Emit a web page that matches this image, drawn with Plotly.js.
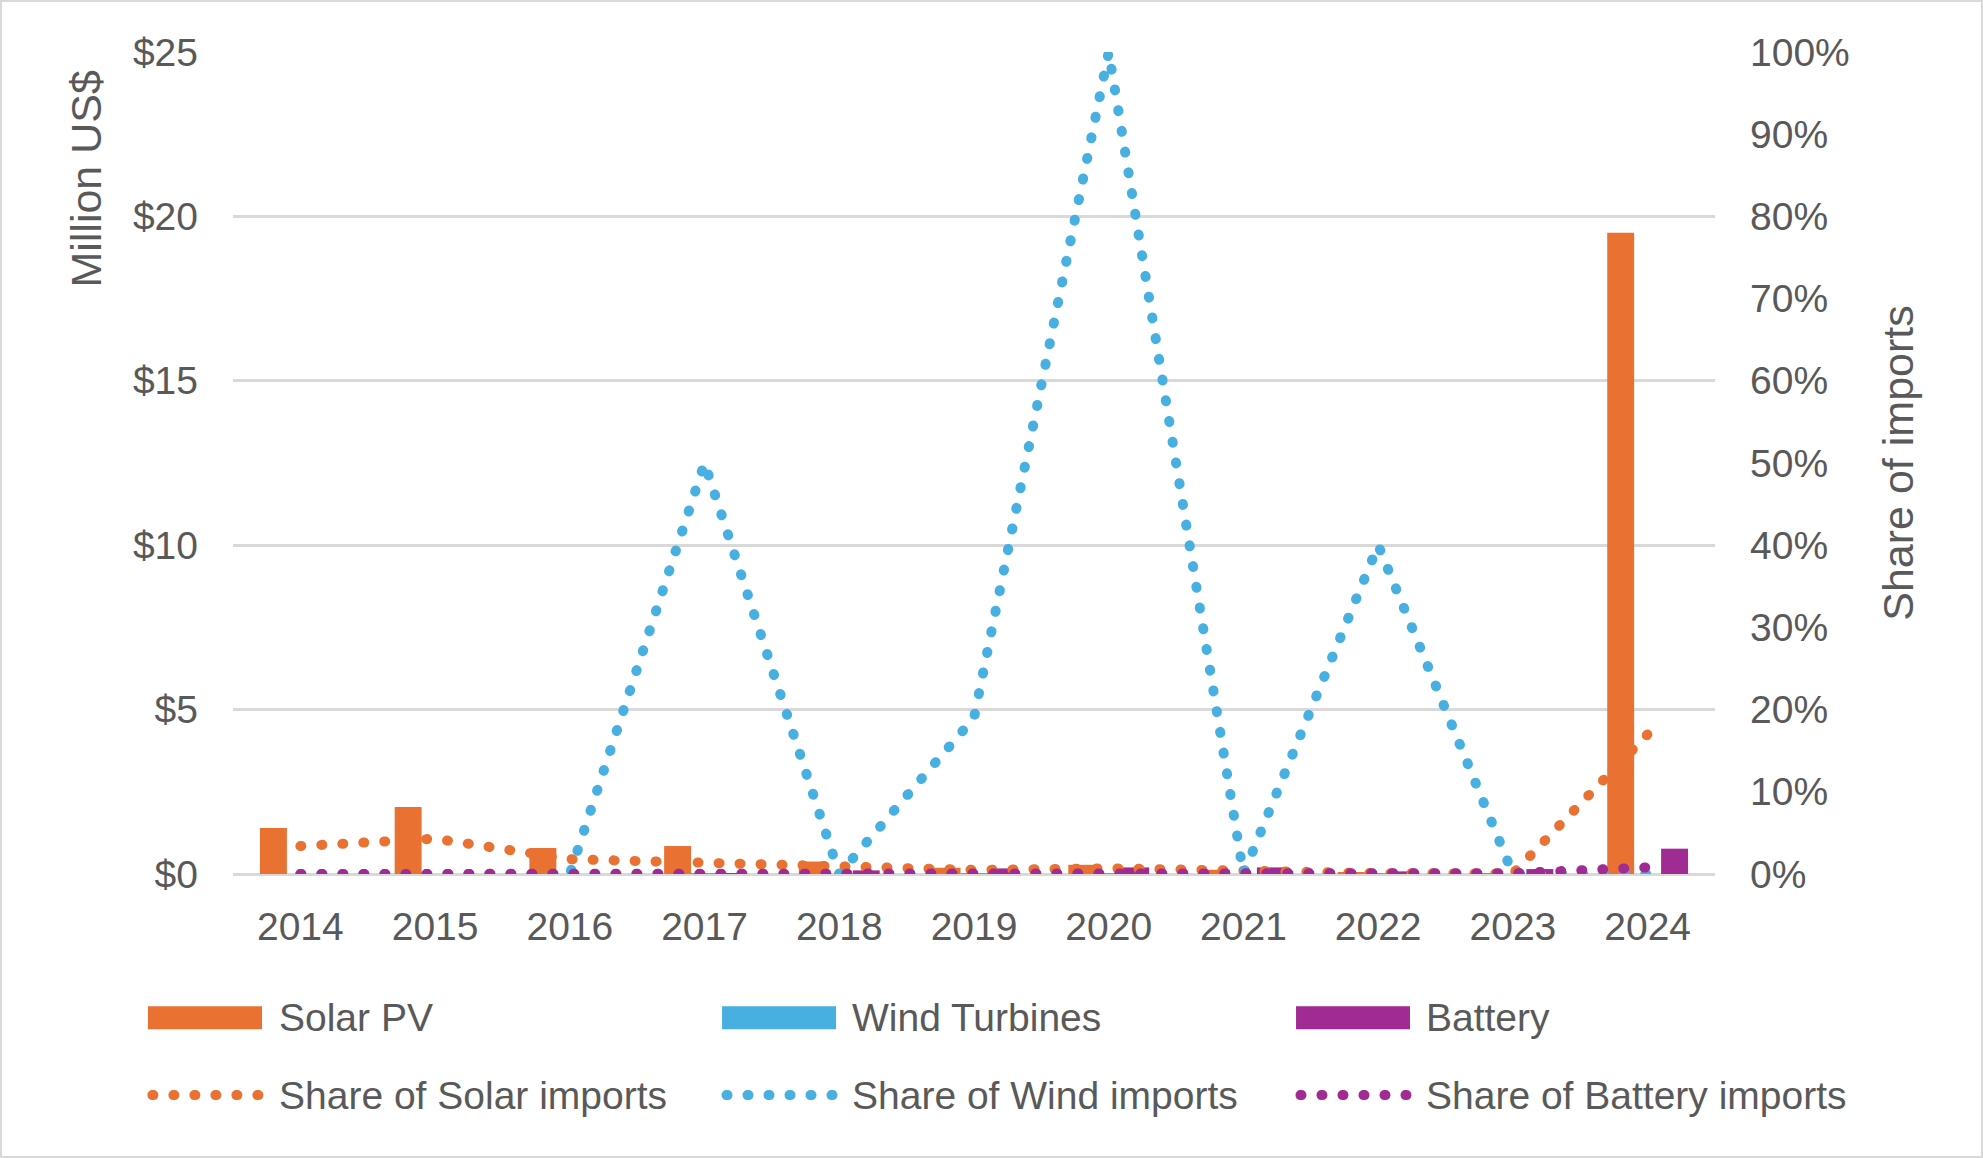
<!DOCTYPE html>
<html>
<head>
<meta charset="utf-8">
<script src="https://cdn.plot.ly/plotly-3.0.1.min.js"></script>
<style>
  body { margin: 0; background: #ffffff; }
  #wrap { position: relative; width: 1983px; height: 1158px; }
  #chart { width: 1983px; height: 1158px; }
  #frame { position: absolute; left: 0; top: 0; width: 1983px; height: 1158px; box-sizing: border-box;
           border: 2px solid #d9d9d9; pointer-events: none; z-index: 10; }
</style>
</head>
<body>
<div id="wrap">
  <div id="chart"></div>
  <div id="frame"></div>
</div>
<script>
// categories
var years = ['2014', '2015', '2016', '2017', '2018', '2019', '2020', '2021', '2022', '2023', '2024'];

// imports, million US$ (left axis)
var solarPV      = [1.40, 2.04, 0.79, 0.85, 0.38, 0.19, 0.28, 0.13, 0.05, 0.02, 19.5];
var windTurbines = [0, 0, 0, 0.01, 0, 0.01, 0.01, 0, 0.01, 0, 0];
var battery      = [0, 0, 0, 0.02, 0.11, 0.17, 0.20, 0.20, 0.08, 0.15, 0.77];

// share of imports, % (right axis)
var solarShare   = [3.4, 4.3, 1.8, 1.4, 0.9, 0.5, 0.7, 0.35, 0.1, 0.05, 17.0];
var windShare    = [0, 0, 0, 50, 0, 19, 100, 0, 40, 0, 0];
var batteryShare = [0, 0, 0, 0.05, 0.1, 0.1, 0.1, 0.1, 0.05, 0.1, 0.8];

var barNames  = ['Solar PV', 'Wind Turbines', 'Battery'];
var lineNames = ['Share of Solar imports', 'Share of Wind imports', 'Share of Battery imports'];
var colours   = ['#E97132', '#47B0E0', '#A02B93'];

var textColour = '#595959';
var font = 'Liberation Sans, Arial, sans-serif';
var dotDash = '1px,20px';

var barValues  = [solarPV, windTurbines, battery];
var lineValues = [solarShare, windShare, batteryShare];

var data = [];
// bars first, so the dotted lines sit on top
for (var i = 0; i < barValues.length; i++) {
	data.push({
		type: 'bar',
		x: years,
		y: barValues[i],
		name: barNames[i],
		marker: {color: colours[i]},
		yaxis: 'y'
	});
}
for (var j = 0; j < lineValues.length; j++) {
	data.push({
		type: 'scatter',
		mode: 'lines',
		x: years,
		y: lineValues[j],
		name: lineNames[j],
		line: {color: colours[j], width: 10, dash: dotDash},
		cliponaxis: false,
		yaxis: 'y2'
	});
}

// hand built legend, laid out like the original (3 columns, 2 rows)
var colX = [[-0.0574, 0.0196, 0.0297], [0.330, 0.4069, 0.4163], [0.7173, 0.7942, 0.8036]];
var rowBars = -0.175;
var rowLines = -0.269;
var shapes = [];
var annotations = [];
for (var k = 0; k < 3; k++) {
	shapes.push({
		type: 'rect', xref: 'paper', yref: 'paper',
		x0: colX[k][0], x1: colX[k][1], y0: rowBars - 0.014, y1: rowBars + 0.014,
		fillcolor: colours[k], line: {width: 0}
	});
	shapes.push({
		type: 'line', xref: 'paper', yref: 'paper',
		x0: colX[k][0] + 0.003, x1: colX[k][1] + 0.002, y0: rowLines, y1: rowLines,
		line: {color: colours[k], width: 10, dash: dotDash}
	});
	annotations.push({
		xref: 'paper', yref: 'paper', x: colX[k][2], y: rowBars,
		xanchor: 'left', yanchor: 'middle', showarrow: false,
		text: barNames[k], font: {family: font, size: 39, color: textColour}
	});
	annotations.push({
		xref: 'paper', yref: 'paper', x: colX[k][2], y: rowLines,
		xanchor: 'left', yanchor: 'middle', showarrow: false,
		text: lineNames[k], font: {family: font, size: 39, color: textColour}
	});
}

// left axis title sits at the top, not centred
annotations.push({
	xref: 'paper', yref: 'paper', x: -0.0992, y: 0.846,
	xanchor: 'center', yanchor: 'middle', showarrow: false, textangle: -90,
	text: 'Million US$', font: {family: font, size: 43, color: textColour}
});

var layout = {
	width: 1983,
	height: 1158,
	margin: {l: 233, r: 268, t: 52, b: 284},
	paper_bgcolor: '#ffffff',
	plot_bgcolor: '#ffffff',
	font: {family: font, size: 39, color: textColour},
	showlegend: false,
	barmode: 'group',
	bargap: 0.4,
	bargroupgap: 0,
	xaxis: {
		type: 'category',
		showline: false,
		showgrid: false,
		ticks: '',
		ticklabelstandoff: 26,
		tickfont: {family: font, size: 39, color: textColour}
	},
	yaxis: {
		range: [0, 25],
		dtick: 5,
		tickprefix: '$',
		showgrid: true,
		gridcolor: '#d9d9d9',
		gridwidth: 2.5,
		zeroline: true,
		zerolinecolor: '#d9d9d9',
		zerolinewidth: 2.5,
		ticks: '',
		ticklabelstandoff: 34,
		tickfont: {family: font, size: 39, color: textColour}
	},
	yaxis2: {
		overlaying: 'y',
		side: 'right',
		range: [0, 100],
		dtick: 10,
		ticksuffix: '%',
		showgrid: false,
		zeroline: false,
		ticks: '',
		ticklabelstandoff: 34,
		tickfont: {family: font, size: 39, color: textColour},
		title: {text: 'Share of imports', standoff: 34, font: {family: font, size: 43, color: textColour}}
	},
	shapes: shapes,
	annotations: annotations
};

Plotly.newPlot('chart', data, layout, {displayModeBar: false, responsive: false}).then(function(gd) {
	// round caps turn the tiny dashes into round dots, like the original
	var paths = gd.querySelectorAll('path');
	for (var p = 0; p < paths.length; p++) {
		var d = paths[p].style.strokeDasharray || paths[p].getAttribute('stroke-dasharray') || '';
		if (d.replace(/\s/g, '').indexOf('1px,20px') === 0) {
			paths[p].style.strokeLinecap = 'round';
			paths[p].setAttribute('stroke-linecap', 'round');
		}
	}
});
</script>
</body>
</html>
